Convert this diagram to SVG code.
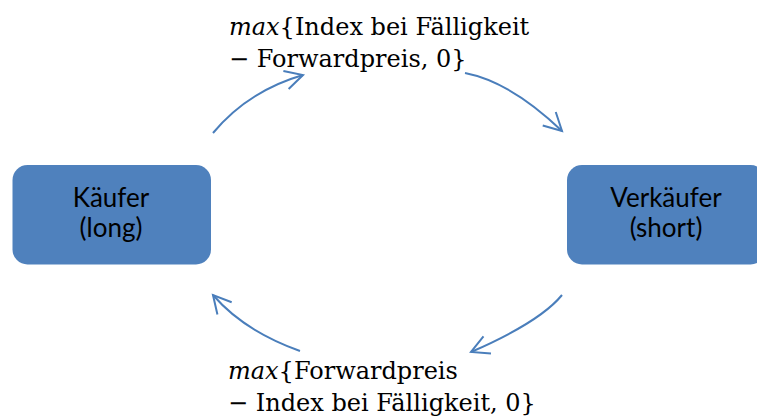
<svg xmlns="http://www.w3.org/2000/svg" width="757" height="418" viewBox="0 0 757 418">
  <style>
    .box { fill: #4F81BD; }
    .boxlabel { font-family: Lato, "Open Sans", sans-serif; font-size: 26px; fill: #000; text-anchor: middle; }
    .formula { font-family: "DejaVu Serif", "Liberation Serif", serif; font-size: 24px; fill: #000; }
    .fn { font-style: italic; }
    .flow { fill: none; stroke: #4A7EBB; stroke-width: 2; }
  </style>
  <defs>
    <marker id="open-arrow" markerUnits="userSpaceOnUse" markerWidth="24" markerHeight="24" viewBox="-20 -12 24 24" refX="0" refY="0" orient="auto">
      <path d="M-17.7,-9.4 L0,0 L-17.7,9.4" fill="none" stroke="#4A7EBB" stroke-width="2"/>
    </marker>
  </defs>

  <g id="buyer">
    <rect class="box" x="12.5" y="165" width="198.5" height="99.5" rx="15"/>
    <text class="boxlabel" x="111" y="207">Käufer</text>
    <text class="boxlabel" x="111" y="237">(long)</text>
  </g>

  <g id="seller">
    <rect class="box" x="567" y="165" width="198.5" height="99.5" rx="15"/>
    <text class="boxlabel" x="666" y="207">Verkäufer</text>
    <text class="boxlabel" x="666" y="237">(short)</text>
  </g>

  <g id="payoff-long">
    <text class="formula" x="229" y="35"><tspan class="fn">max</tspan>{Index bei Fälligkeit</text>
    <text class="formula" x="229" y="67">− Forwardpreis, 0}</text>
  </g>

  <g id="payoff-short">
    <text class="formula" x="228" y="379"><tspan class="fn">max</tspan>{Forwardpreis</text>
    <text class="formula" x="228" y="411">− Index bei Fälligkeit, 0}</text>
  </g>

  <g id="connectors">
    <path class="flow" d="M213,133 Q248,91 303,75" marker-end="url(#open-arrow)"/>
    <path class="flow" d="M465,73 Q511,82 562,131" marker-end="url(#open-arrow)"/>
    <path class="flow" d="M562,295 Q540,322 471,352" marker-end="url(#open-arrow)"/>
    <path class="flow" d="M300,351 Q244,331 213,295" marker-end="url(#open-arrow)"/>
  </g>
</svg>
